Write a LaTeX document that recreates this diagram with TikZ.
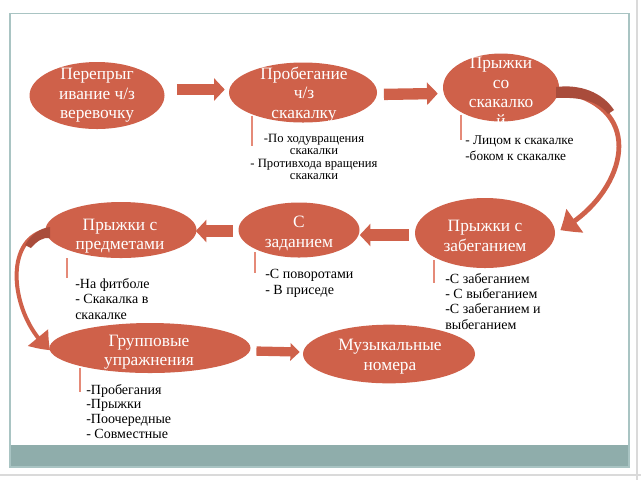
\documentclass[tikz,border=0pt]{standalone}
\usepackage{fontspec}
\setmainfont{Liberation Serif}
\usetikzlibrary{arrows.meta,shapes.geometric,bending}
\definecolor{ellC}{HTML}{CF614A}
\definecolor{ellDark}{HTML}{A94C3B}
\definecolor{frameC}{HTML}{A9C4C3}
\definecolor{bandC}{HTML}{8FADAB}
\definecolor{callC}{HTML}{E58A78}
\definecolor{edgeC}{HTML}{DADADA}
\begin{document}
\begin{tikzpicture}[x=0.75pt,y=-0.75pt,
  ellnode/.style={ellipse, fill=ellC, inner sep=0pt},
  etext/.style={text=white, align=center, inner sep=0pt, font=\fontsize{13}{14.5}\selectfont},
  lbl/.style={align=left, inner sep=0pt, anchor=base west, font=\fontsize{10.5}{11.3}\selectfont},
  barrow/.style={draw=ellC, line width=8.5pt, -{Triangle[width=16.5pt,length=8pt]}},
  carrow/.style={draw=ellC, line width=3.6pt, -{Triangle[width=21pt,length=13pt,bend]}},
  callout/.style={draw=callC, line width=0.8pt}
]
\fill[white] (0,0) rectangle (641,480);
\useasboundingbox (0,0) rectangle (641,480);
\draw[edgeC, line width=0.8pt] (637,0) -- (637,480);
\draw[edgeC, line width=0.8pt] (0,475) -- (641,475);
\fill[bandC] (10,445) rectangle (629,467);
\draw[frameC, line width=1pt] (10,13.5) rectangle (629,467);

% ellipses
\node[ellnode, minimum width=101.25pt, minimum height=50.25pt] (e1) at (97,95.5) {};
\node[ellnode, minimum width=111pt, minimum height=45pt] (e2) at (303,92.5) {};
\node[ellnode, minimum width=87pt, minimum height=51pt] (e3) at (501,87.5) {};
\node[ellnode, minimum width=105pt, minimum height=52.5pt] (e4) at (485,233) {};
\node[ellnode, minimum width=90.75pt, minimum height=41.25pt] (e5) at (299,230) {};
\node[ellnode, minimum width=113.25pt, minimum height=42pt] (e6) at (121,230) {};
\node[ellnode, minimum width=150.75pt, minimum height=37.5pt] (e7) at (150,348) {};
\node[ellnode, minimum width=129pt, minimum height=44pt] (e8) at (389,354) {};

% ellipse texts
\node[etext] (t1) at (97,95.5) {Перепрыг\\ивание ч/з\\веревочку};
\node[etext] (t2) at (304,94.5) {Пробегание\\ч/з\\скакалку};
\node[etext] (t3) at (501,92) {Прыжки\\со\\скакалко\\й};
\node[etext] (t4) at (485,236) {Прыжки с\\забеганием};
\node[etext] (t5) at (299,233.5) {С\\заданием};
\node[etext] (t6) at (120,236) {Прыжки с\\предметами};
\node[etext] (t7) at (149,352) {Групповые\\упражнения};
\node[etext] (t8) at (390,356.5) {Музыкальные\\номера};

% straight block arrows
\draw[barrow, shorten <=9pt] ([shift={(0,-6)}]e1.east) -- ([shift={(-4,-3)}]e2.west);
\draw[barrow, shorten <=5pt] ([shift={(0,2)}]e2.east) -- ([shift={(-5,6)}]e3.west);
\draw[barrow, shorten <=2pt] ([shift={(-3,2)}]e4.west) -- ([shift={(0,5)}]e5.east);
\draw[barrow, shorten <=2pt] ([shift={(-3,1)}]e5.west) -- ([shift={(-1,1)}]e6.east);
\draw[barrow, line width=7pt, -{Triangle[width=13pt,length=7pt]}, shorten <=2pt]
  ([shift={(3,3)}]e7.east) -- ([shift={(-3,-2)}]e8.west);

% curved arrows
\draw[carrow] ([shift={(-2,3)}]e3.east) .. controls (652,105) and (625,195) .. ([shift={(5,-3)}]e4.east);
\fill[ellDark] (556,87) .. controls (580,84) and (602,92) .. (614,110)
  -- (608,114) .. controls (597,100) and (578,97) .. (556,98) -- cycle;
\draw[carrow, line width=3pt, -{Triangle[width=19pt,length=13pt,bend]}]
  ([shift={(3,0)}]e6.west) .. controls (0,238) and (12,320) .. ([shift={(1,2)}]e7.west);
\fill[ellDark] (50,227) .. controls (40,228) and (31,235) .. (25,245)
  -- (31,248) .. controls (37,241) and (43,237) .. (50,238) -- cycle;

% callout lines
\draw[callout] ([shift={(-51,23)}]e2.center) -- ++(0,30);
\draw[callout] ([shift={(-40,27)}]e3.center) -- ++(0,25);
\draw[callout] ([shift={(-51,27)}]e4.center) -- ++(0,23);
\draw[callout] ([shift={(-44,22)}]e5.center) -- ++(0,21);
\draw[callout] ([shift={(-54,28)}]e6.center) -- ++(0,20);
\draw[callout] ([shift={(-70,20)}]e7.center) -- ++(0,24);

% labels (anchored at the baseline of their last line)
\node[lbl, anchor=base, align=center, font=\fontsize{9.5}{9.2}\selectfont] (l2) at (314,179.5)
  {-По ходувращения\\скакалки\\- Противхода вращения\\скакалки};
\node[lbl, font=\fontsize{10}{12}\selectfont] (l3) at (465,160) {- Лицом к скакалке\\-боком к скакалке};
\node[lbl] (l4) at (445,329) {-С забеганием\\ - С выбеганием\\-С забеганием и\\выбеганием};
\node[lbl, font=\fontsize{10.5}{12}\selectfont] (l5) at (265,294) {-С поворотами\\- В приседе};
\node[lbl] (l6) at (75,319) {-На фитболе\\- Скакалка в\\скакалке};
\node[lbl, font=\fontsize{10.5}{11}\selectfont] (l7) at (86,438) {-Пробегания\\-Прыжки\\-Поочередные\\ - Совместные};
\end{tikzpicture}
\end{document}
